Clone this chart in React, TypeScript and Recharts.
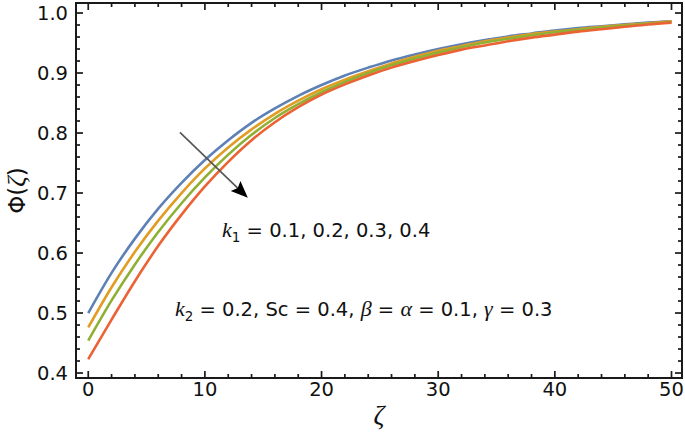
import React from "react";
import {
  LineChart,
  Line,
  XAxis,
  YAxis,
  ReferenceLine,
  ReferenceDot,
  ReferenceArea,
  Label,
} from "recharts";

// ---------- data ----------
const zeta = [0, 2, 4, 6, 8, 10, 12, 14, 16, 18, 20, 22, 24, 26, 28, 30, 32, 34, 36, 38, 40, 42, 44, 46, 48, 50];
const phiK1_01 = [0.500, 0.567, 0.624, 0.674, 0.717, 0.755, 0.788, 0.817, 0.841, 0.862, 0.880, 0.896, 0.909, 0.921, 0.931, 0.940, 0.948, 0.955, 0.961, 0.966, 0.971, 0.975, 0.978, 0.981, 0.984, 0.986];
const phiK1_02 = [0.476, 0.543, 0.602, 0.654, 0.700, 0.741, 0.776, 0.806, 0.832, 0.854, 0.873, 0.889, 0.903, 0.916, 0.927, 0.937, 0.945, 0.953, 0.959, 0.965, 0.969, 0.973, 0.977, 0.980, 0.983, 0.986];
const phiK1_03 = [0.454, 0.521, 0.581, 0.635, 0.683, 0.726, 0.764, 0.797, 0.825, 0.848, 0.868, 0.885, 0.900, 0.913, 0.924, 0.934, 0.943, 0.951, 0.957, 0.963, 0.968, 0.972, 0.976, 0.979, 0.982, 0.985];
const phiK1_04 = [0.423, 0.489, 0.553, 0.612, 0.664, 0.711, 0.752, 0.788, 0.818, 0.843, 0.864, 0.881, 0.896, 0.909, 0.920, 0.930, 0.939, 0.946, 0.953, 0.959, 0.964, 0.969, 0.973, 0.977, 0.981, 0.984];

const xMajorTicks = [0, 10, 20, 30, 40, 50];
const yMajorTicks = [0.4, 0.5, 0.6, 0.7, 0.8, 0.9, 1.0];

const X_DOMAIN: [number, number] = [-1.05, 50.9];
const Y_DOMAIN: [number, number] = [0.3917, 1.0167];

const arrowStart = { x: 7.86, y: 0.801 };
const arrowEnd = { x: 13.68, y: 0.692 };
const note1Pos = { x: 11.47, y: 0.626 };
const note2Pos = { x: 7.43, y: 0.495 };

// ---------- derived ----------
const data = zeta.map((z, i) => ({
  z,
  a: phiK1_01[i],
  b: phiK1_02[i],
  c: phiK1_03[i],
  d: phiK1_04[i],
}));

const xTicks: number[] = [];
for (let i = 0; i <= 25; i++) xTicks.push(i * 2);
const yTicks: number[] = [];
for (let i = 0; i <= 30; i++) yTicks.push(Math.round((0.4 + i * 0.02) * 100) / 100);

const isXMajor = (v: number) => xMajorTicks.includes(v);
const isYMajor = (v: number) => yMajorTicks.some((t) => Math.abs(t - v) < 1e-6);

const SANS = "'DejaVu Sans', 'Liberation Sans', Arial, sans-serif";
const SERIF = "'Liberation Serif', 'Times New Roman', serif";
const FRAME = "#1a1a1a";
const MAJ = 7;
const MIN = 4;
const TICK_FS = 19.5;

const BottomLabel = (props: any) => {
  const { x, y, payload } = props;
  const v = payload.value;
  if (!isXMajor(v)) return <g />;
  return (
    <text x={x} y={y + 18} textAnchor="middle" fontFamily={SANS} fontSize={TICK_FS} fill="#111">
      {v}
    </text>
  );
};

const LeftLabel = (props: any) => {
  const { x, y, payload } = props;
  const v = payload.value;
  if (!isYMajor(v)) return <g />;
  return (
    <text x={x - 8} y={y + 7} textAnchor="end" fontFamily={SANS} fontSize={TICK_FS} fill="#111">
      {v.toFixed(1)}
    </text>
  );
};

// vertical reference line -> inward ticks at bottom and top
const makeVTick = (major: boolean) => (props: any) => {
  const { x1, y1, y2 } = props;
  const top = Math.min(y1, y2);
  const bot = Math.max(y1, y2);
  const L = major ? MAJ : MIN;
  return (
    <g>
      <line x1={x1} x2={x1} y1={bot} y2={bot - L} stroke={FRAME} strokeWidth={1.7} />
      <line x1={x1} x2={x1} y1={top} y2={top + L} stroke={FRAME} strokeWidth={1.7} />
    </g>
  );
};

// horizontal reference line -> inward ticks at left and right
const makeHTick = (major: boolean) => (props: any) => {
  const { x1, x2, y1 } = props;
  const left = Math.min(x1, x2);
  const right = Math.max(x1, x2);
  const L = major ? MAJ : MIN;
  return (
    <g>
      <line x1={left} x2={left + L} y1={y1} y2={y1} stroke={FRAME} strokeWidth={1.7} />
      <line x1={right} x2={right - L} y1={y1} y2={y1} stroke={FRAME} strokeWidth={1.7} />
    </g>
  );
};

const ArrowShape = (props: any) => {
  const { x1, y1, x2, y2 } = props;
  const dx = x2 - x1;
  const dy = y2 - y1;
  const len = Math.sqrt(dx * dx + dy * dy);
  const ux = dx / len;
  const uy = dy / len;
  const headL = 17;
  const headW = 7;
  const bx = x2 - ux * headL;
  const by = y2 - uy * headL;
  const px = -uy;
  const py = ux;
  const pts = `${x2},${y2} ${bx + px * headW},${by + py * headW} ${bx + ux * 3},${by + uy * 3} ${bx - px * headW},${by - py * headW}`;
  return (
    <g>
      <line x1={x1} y1={y1} x2={bx + ux * 3} y2={by + uy * 3} stroke="#555" strokeWidth={1.6} />
      <polygon points={pts} fill="#000" />
    </g>
  );
};

const NOTE_FS = 19.5;
const SUB_FS = 13.5;
const GREEK_FS = 22;

const Note1 = (props: any) => {
  const { cx, cy } = props;
  return (
    <text x={cx} y={cy} fontFamily={SANS} fontSize={NOTE_FS} fill="#111">
      <tspan fontFamily={SERIF} fontStyle="italic" fontSize={GREEK_FS}>k</tspan>
      <tspan fontSize={SUB_FS} dy={5}>1</tspan>
      <tspan dy={-5}>{" = 0.1, 0.2, 0.3, 0.4"}</tspan>
    </text>
  );
};

const Note2 = (props: any) => {
  const { cx, cy } = props;
  return (
    <text x={cx} y={cy} fontFamily={SANS} fontSize={NOTE_FS} fill="#111">
      <tspan fontFamily={SERIF} fontStyle="italic" fontSize={GREEK_FS}>k</tspan>
      <tspan fontSize={SUB_FS} dy={5}>2</tspan>
      <tspan dy={-5}>{" = 0.2, Sc = 0.4, "}</tspan>
      <tspan fontFamily={SERIF} fontStyle="italic" fontSize={GREEK_FS}>β</tspan>
      <tspan>{" = "}</tspan>
      <tspan fontFamily={SERIF} fontStyle="italic" fontSize={GREEK_FS}>α</tspan>
      <tspan>{" = 0.1, "}</tspan>
      <tspan fontFamily={SERIF} fontStyle="italic" fontSize={GREEK_FS}>γ</tspan>
      <tspan>{" = 0.3"}</tspan>
    </text>
  );
};

const XLabel = (props: any) => {
  const vb = props.viewBox || {};
  const cx = vb.x + vb.width / 2;
  return (
    <text x={cx} y={424} textAnchor="middle" fontFamily={SERIF} fontStyle="italic" fontSize={27} fill="#111">
      ζ
    </text>
  );
};

const YLabel = (props: any) => {
  const vb = props.viewBox || {};
  const cy = vb.y + vb.height / 2;
  const x = 25;
  return (
    <text x={x} y={cy} transform={`rotate(-90, ${x}, ${cy})`} textAnchor="middle" fontFamily={SANS} fontSize={23} fill="#111">
      <tspan>Φ(</tspan>
      <tspan fontFamily={SERIF} fontStyle="italic" fontSize={26}>ζ</tspan>
      <tspan>)</tspan>
    </text>
  );
};

const COLORS = ["#5E81B5", "#E19C24", "#8FB032", "#EB6235"];
const KEYS = ["a", "b", "c", "d"];

export default function App() {
  return (
    <div style={{ position: "absolute", left: 0, top: 0, background: "#fff" }}>
      <LineChart width={685} height={432} data={data} margin={{ top: 3, right: 3, bottom: 0, left: 0 }}>
        <XAxis
          xAxisId="b"
          dataKey="z"
          type="number"
          domain={X_DOMAIN}
          allowDataOverflow
          ticks={xTicks}
          interval={0}
          tickSize={0}
          tickMargin={0}
          tickLine={false}
          tick={<BottomLabel />}
          height={54}
          axisLine={false}
        >
          <Label content={<XLabel />} />
        </XAxis>
        <YAxis
          yAxisId="l"
          type="number"
          domain={Y_DOMAIN}
          allowDataOverflow
          ticks={yTicks}
          interval={0}
          tickSize={0}
          tickMargin={0}
          tickLine={false}
          tick={<LeftLabel />}
          width={76}
          axisLine={false}
        >
          <Label content={<YLabel />} />
        </YAxis>
        {xTicks.map((v) => (
          <ReferenceLine
            key={"xt" + v}
            xAxisId="b"
            yAxisId="l"
            x={v}
            shape={makeVTick(isXMajor(v))}
            ifOverflow="visible"
          />
        ))}
        {yTicks.map((v) => (
          <ReferenceLine
            key={"yt" + v}
            xAxisId="b"
            yAxisId="l"
            y={v}
            shape={makeHTick(isYMajor(v))}
            ifOverflow="visible"
          />
        ))}
        <ReferenceArea
          xAxisId="b"
          yAxisId="l"
          x1={X_DOMAIN[0]}
          x2={X_DOMAIN[1]}
          y1={Y_DOMAIN[0]}
          y2={Y_DOMAIN[1]}
          fill="none"
          fillOpacity={0}
          stroke={FRAME}
          strokeWidth={2}
          ifOverflow="visible"
        />
        {KEYS.map((k, i) => (
          <Line
            key={k}
            xAxisId="b"
            yAxisId="l"
            type="monotone"
            dataKey={k}
            stroke={COLORS[i]}
            strokeWidth={2.6}
            dot={false}
            isAnimationActive={false}
          />
        ))}
        <ReferenceLine
          xAxisId="b"
          yAxisId="l"
          segment={[arrowStart, arrowEnd]}
          shape={<ArrowShape />}
          ifOverflow="visible"
        />
        <ReferenceDot xAxisId="b" yAxisId="l" x={note1Pos.x} y={note1Pos.y} shape={<Note1 />} ifOverflow="visible" />
        <ReferenceDot xAxisId="b" yAxisId="l" x={note2Pos.x} y={note2Pos.y} shape={<Note2 />} ifOverflow="visible" />
      </LineChart>
    </div>
  );
}
